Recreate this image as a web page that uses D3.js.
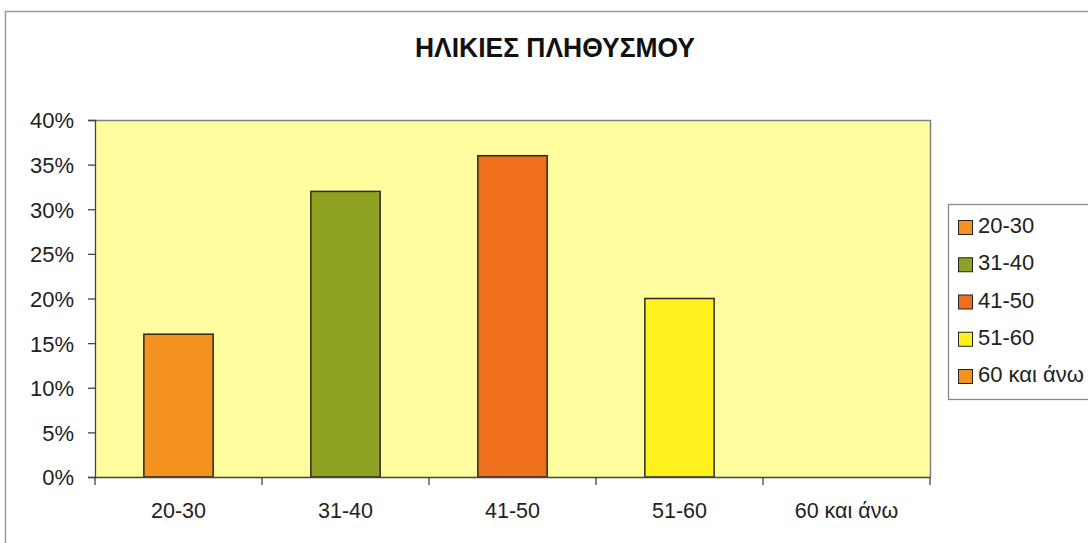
<!DOCTYPE html>
<html><head><meta charset="utf-8">
<script src="https://cdn.jsdelivr.net/npm/d3@7"></script>
<style>body{margin:0;background:#fff}svg{display:block}</style>
</head><body>
<script>
const categories = ["20-30","31-40","41-50","51-60","60 και άνω"];
const values = [0.16, 0.32, 0.36, 0.20, 0];
const colors = ["#F4921F","#8FA123","#EF6F1D","#FFF01E","#F4921F"];
const yTicks = [0,0.05,0.10,0.15,0.20,0.25,0.30,0.35,0.40];
const title = "ΗΛΙΚΙΕΣ ΠΛΗΘΥΣΜΟΥ";

const W=1088,H=543;
const svg=d3.select("body").append("svg").attr("width",W).attr("height",H);
const font="'Liberation Sans', Arial, sans-serif";
// outer chart frame
svg.append("rect").attr("x",5.5).attr("y",11.5).attr("width",1100).attr("height",600)
  .attr("fill","#fff").attr("stroke","#9a9a9a").attr("stroke-width",1.5);
svg.append("text").attr("x",555).attr("y",57).attr("text-anchor","middle")
  .attr("font-family",font).attr("font-weight","bold")
  .attr("font-size",27).attr("fill","#111")
  .attr("textLength",280).attr("lengthAdjust","spacingAndGlyphs").text(title);

const L=95,R=930,T=120,B=477;
const x=d3.scaleBand().domain(categories).range([L,R]).padding(0);
const y=d3.scaleLinear().domain([0,0.4]).range([B,T]);
svg.append("rect").attr("x",L).attr("y",T).attr("width",R-L).attr("height",B-T).attr("fill","#FFFD9E");
// plot border top/right
svg.append("path").attr("d",`M${L},${T+0.5}H${R+0.5}V${B}`).attr("fill","none").attr("stroke","#808080").attr("stroke-width",1.5);

const bw=x.bandwidth()*0.415;
svg.selectAll("rect.bar").data(values).join("rect").attr("class","bar")
  .attr("x",(d,i)=>x(categories[i])+x.bandwidth()/2-bw/2)
  .attr("y",d=>y(d)).attr("width",bw).attr("height",d=>B-y(d))
  .attr("fill",(d,i)=>colors[i]).attr("stroke",(d)=>d>0?"#2b2b20":"none").attr("stroke-width",1.5);

const yAxis=d3.axisLeft(y).tickValues(yTicks).tickFormat(d3.format(".0%")).tickSizeOuter(0).tickSize(7).tickPadding(14);
const gy=svg.append("g").attr("transform",`translate(${L},0)`).call(yAxis);
gy.selectAll("text").attr("font-family",font).attr("font-size",22).attr("fill","#222").attr("dy","0.36em");
gy.selectAll("line,path").attr("stroke","#444").attr("stroke-width",1.3);

const xAxis=d3.axisBottom(x).tickSize(0).tickPadding(25);
const gx=svg.append("g").attr("transform",`translate(0,${B})`).call(xAxis);
gx.select("path").attr("stroke","#444").attr("stroke-width",1.3);
gx.selectAll("text").attr("font-family",font).attr("font-size",21.5).attr("fill","#222")
  .attr("y",41).attr("dy",0);
const bounds=categories.map(c=>x(c)).concat([R]);
svg.selectAll("line.xt").data(bounds).join("line").attr("class","xt")
  .attr("x1",d=>d).attr("x2",d=>d).attr("y1",B).attr("y2",B+8).attr("stroke","#444").attr("stroke-width",1.3);

// legend
const lg=svg.append("g");
lg.append("rect").attr("x",948.5).attr("y",204.5).attr("width",200).attr("height",195)
  .attr("fill","#fff").attr("stroke","#888").attr("stroke-width",1.3);
const ly=d3.scalePoint().domain(categories).range([233,382]);
categories.forEach((c,i)=>{
  lg.append("rect").attr("x",958.5).attr("y",ly(c)-12.5).attr("width",14).attr("height",14)
    .attr("fill",colors[i]).attr("stroke","#222").attr("stroke-width",1);
  lg.append("text").attr("x",978).attr("y",ly(c)).attr("font-family",font).attr("font-size",22)
    .attr("fill","#222").text(c);
});
</script>
</body></html>
